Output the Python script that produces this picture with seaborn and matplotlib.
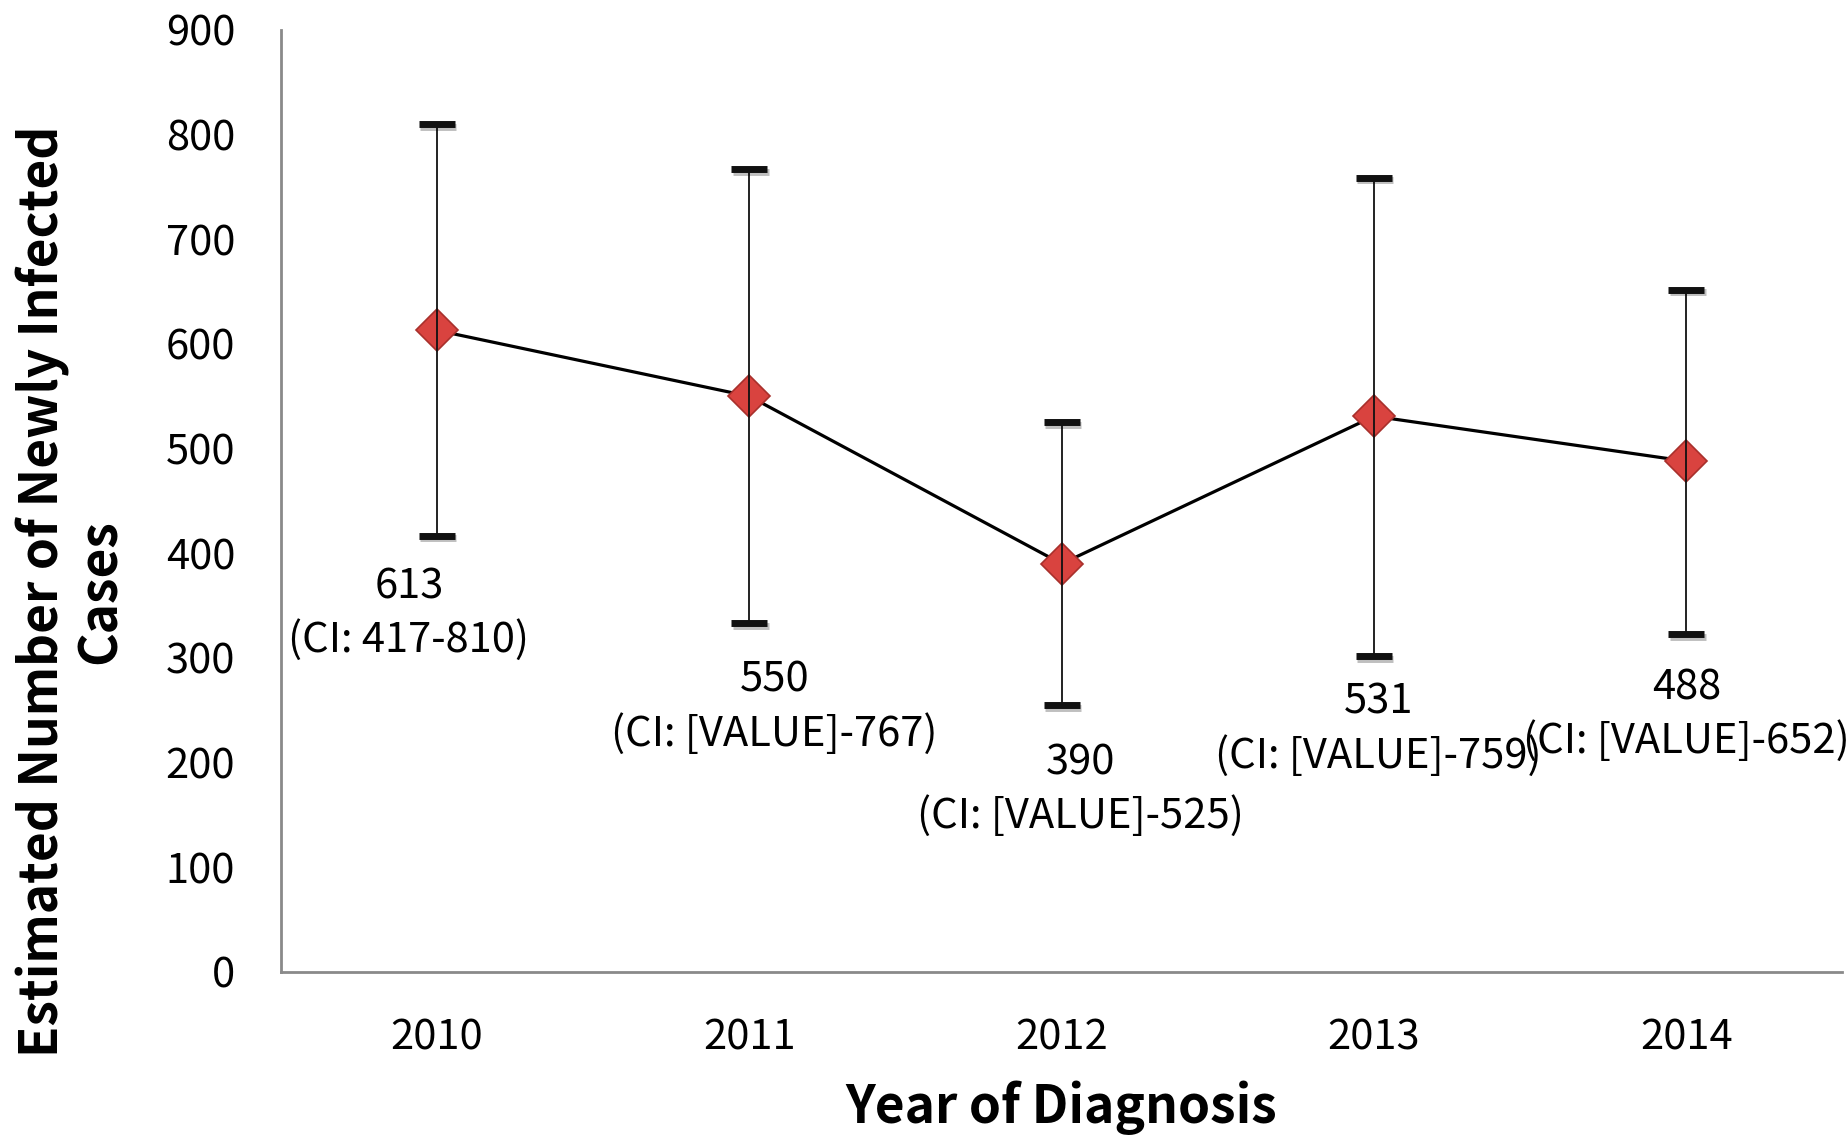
import pandas as pd
import matplotlib.pyplot as plt
import matplotlib.patheffects as pe
import seaborn as sns

# dados
anos = ["2010", "2011", "2012", "2013", "2014"]
casos = [613, 550, 390, 531, 488]
ic_inf = [417, 333, 255, 302, 323]
ic_sup = [810, 767, 525, 759, 652]
rotulos = ["613\n(CI: 417-810)", "550\n(CI: [VALUE]-767)", "390\n(CI: [VALUE]-525)",
           "531\n(CI: [VALUE]-759)", "488\n(CI: [VALUE]-652)"]
# deslocamento dos rótulos (x em categorias, y em valor)
rot_dx = [-0.09, 0.08, 0.06, 0.015, 0.0]
rot_y = [342, 253, 174, 232, 246]

df = pd.DataFrame({"Ano": anos, "Casos": casos, "inf": ic_inf, "sup": ic_sup})

sns.set_style("white")
plt.rcParams["font.family"] = ["Noto Sans CJK KR", "DejaVu Sans"]
plt.rcParams["text.color"] = "black"
plt.rcParams["xtick.color"] = "black"
plt.rcParams["ytick.color"] = "black"
plt.rcParams["axes.labelcolor"] = "black"

fig = plt.figure(figsize=(18.48, 11.36), dpi=100)
ax = fig.add_axes([0.152, 0.1444, 0.845, 0.8292])

sns.lineplot(data=df, x="Ano", y="Casos", color="black", linewidth=2.3,
             marker="D", markersize=21, markerfacecolor="#d9433f",
             markeredgecolor="#a8302c", markeredgewidth=1.2, ax=ax, zorder=3)

pos = range(len(anos))
eb = ax.errorbar(list(pos), df["Casos"],
                 yerr=[df["Casos"] - df["inf"], df["sup"] - df["Casos"]],
                 fmt="none", ecolor="#111111", elinewidth=1.3, capsize=13,
                 capthick=5, zorder=4)
for cap in eb[1]:
    cap.set_path_effects([pe.SimpleLineShadow(offset=(1, -2), alpha=0.25), pe.Normal()])

for i in pos:
    ax.text(i + rot_dx[i], rot_y[i], rotulos[i], ha="center", va="center",
            multialignment="center", fontsize=30, linespacing=1.36)

ax.set_xlim(-0.5, 4.5)
ax.set_ylim(0, 900)
ax.set_yticks(range(0, 901, 100))
ax.tick_params(axis="both", length=0, labelsize=30, pad=33)

sns.despine(ax=ax)
for s in ["left", "bottom"]:
    ax.spines[s].set_color("#8a8a8a")
    ax.spines[s].set_linewidth(2)

ax.set_xlabel("Year of Diagnosis", fontsize=37, fontweight="bold")
ax.xaxis.label.set_va("center")
ax.xaxis.set_label_coords(0.5, -0.144)
ax.set_ylabel("Estimated Number of Newly Infected\nCases", fontsize=37,
              fontweight="bold", linespacing=1.1)
ax.yaxis.label.set_va("center")
ax.yaxis.set_label_coords(-0.134, 0.404)

plt.savefig("out.png", dpi=100)
